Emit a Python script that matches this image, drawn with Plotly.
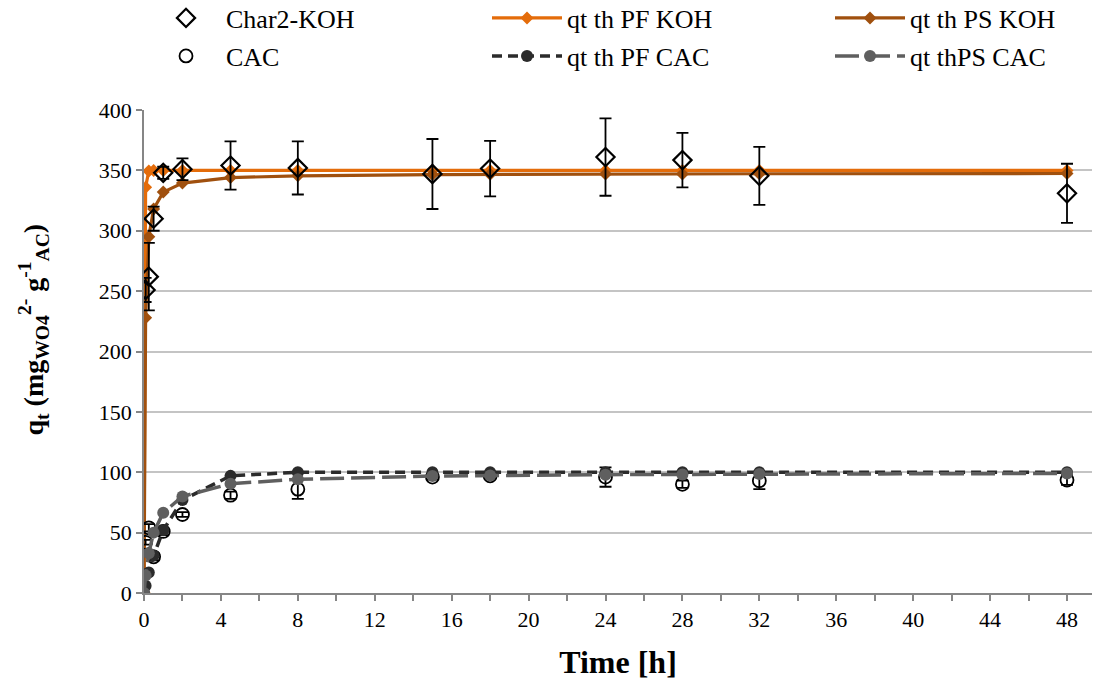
import plotly.graph_objects as go

# ---- data ----
t_exp = [0.083, 0.25, 0.5, 1, 2, 4.5, 8, 15, 18, 24, 28, 32, 48]
q_char2_koh = [251, 262, 310, 348, 351, 354, 352, 347, 351.5, 361, 358.5, 345.5, 331]
err_char2_koh = [10, 28, 10, 5, 9, 20, 22, 29, 23, 32, 22.5, 24, 24.5]
q_cac = [42, 54, 30, 51, 65, 81, 86, 96, 97, 96, 90, 93, 93.5]
err_cac = [2, 3, 3, 3, 2, 3, 8, 2, 2, 8, 3, 7, 4]

t_th = [0, 0.083, 0.25, 0.5, 1, 2, 4.5, 8, 15, 18, 24, 28, 32, 48]
pf_koh = [0, 336, 349.5, 350, 350, 350, 350, 350, 350, 350, 350, 350, 350, 350]
ps_koh = [0, 228, 295, 318, 332, 339.5, 344, 345.5, 346.5, 346.7, 347, 347.1, 347.2, 347.4]
pf_cac = [0, 6, 17, 31, 52, 77, 97, 100, 100, 100, 100, 100, 100, 100]
ps_cac = [0, 14.5, 33, 50, 66.5, 80, 90.5, 94.2, 96.8, 97.3, 98, 98.2, 98.5, 99]

x_ticks = list(range(0, 49, 4))
y_ticks = list(range(0, 401, 50))

FONT = "Liberation Serif"
W, H = 1097, 680

fig = go.Figure()

fig.add_trace(go.Scatter(
    x=t_th, y=pf_koh, name="qt th PF KOH", mode="lines+markers",
    line=dict(color="#E46C0A", width=3.2),
    marker=dict(symbol="diamond", size=10, color="#E46C0A"),
    legend="legend2"))
fig.add_trace(go.Scatter(
    x=t_th, y=ps_koh, name="qt th PS KOH", mode="lines+markers",
    line=dict(color="#A0500E", width=3.2),
    marker=dict(symbol="diamond", size=10, color="#A0500E"),
    legend="legend3"))
fig.add_trace(go.Scatter(
    x=t_exp, y=q_char2_koh, name="Char2-KOH", mode="markers",
    marker=dict(symbol="diamond-open", size=14, color="black", line=dict(width=2.2, color="black")),
    error_y=dict(type="data", array=err_char2_koh, color="black", thickness=1.8, width=6),
    legend="legend"))
fig.add_trace(go.Scatter(
    x=t_exp, y=q_cac, name="CAC", mode="markers",
    marker=dict(symbol="circle-open", size=13, color="black", line=dict(width=1.8, color="black")),
    error_y=dict(type="data", array=err_cac, color="black", thickness=1.8, width=6),
    legend="legend4"))
fig.add_trace(go.Scatter(
    x=t_th, y=pf_cac, name="qt th PF CAC", mode="lines+markers",
    line=dict(color="#2B2B2B", width=3.5, dash="10px,6px"),
    marker=dict(symbol="circle", size=12, color="#2B2B2B"),
    legend="legend5"))
fig.add_trace(go.Scatter(
    x=t_th, y=ps_cac, name="qt thPS CAC", mode="lines+markers",
    line=dict(color="#5F5F5F", width=3.5, dash="24px,7px"),
    marker=dict(symbol="circle", size=12, color="#5F5F5F"),
    legend="legend6"))

def leg(px, py, iw):
    return dict(x=px / W, y=1 - py / H, xref="container", yref="container",
                xanchor="left", yanchor="middle", bgcolor="rgba(0,0,0,0)",
                font=dict(family=FONT, size=26, color="black"), itemwidth=iw,
                orientation="h", borderwidth=0)

fig.update_layout(
    width=W, height=H,
    paper_bgcolor="white", plot_bgcolor="white",
    margin=dict(l=144, r=5, t=110, b=87),
    font=dict(family=FONT, size=22, color="black"),
    showlegend=True,
    legend=leg(146, 18, 70),
    legend2=leg(487, 18, 70),
    legend3=leg(830, 18, 70),
    legend4=leg(146, 56, 70),
    legend5=leg(487, 56, 70),
    legend6=leg(830, 56, 70),
    xaxis=dict(
        range=[0, 49.3], tickvals=x_ticks, ticktext=[str(v) for v in x_ticks],
        showgrid=False, zeroline=False,
        showline=True, linecolor="#868686", linewidth=1.5,
        ticks="outside", ticklen=6, tickwidth=1.5, tickcolor="#868686",
        minor=dict(dtick=2, tick0=0, ticks="outside", ticklen=6, tickwidth=1.5,
                   tickcolor="#868686", showgrid=False),
        tickfont=dict(family=FONT, size=22, color="black"),
        title=dict(text="<b>Time [h]</b>", font=dict(family=FONT, size=32, color="black"),
                   standoff=20),
    ),
    yaxis=dict(
        range=[0, 400], tickvals=y_ticks,
        showgrid=True, gridcolor="#C4C4C4", gridwidth=1.5, zeroline=False,
        showline=True, linecolor="#868686", linewidth=1.5,
        ticks="outside", ticklen=6, tickwidth=1.5, tickcolor="#868686",
        tickfont=dict(family=FONT, size=22, color="black"),
    ),
    annotations=[dict(
        text="<b>q<sub>t</sub> (mg<sub>WO4</sub><sup>2-</sup> g<sup>-1</sup><sub>AC</sub>)</b>",
        xref="paper", yref="paper", x=0, y=0.5, xanchor="center", yanchor="middle",
        xshift=-110, yshift=22, textangle=-90, showarrow=False,
        font=dict(family=FONT, size=28, color="black"))],
)

fig.write_html("out.html")
